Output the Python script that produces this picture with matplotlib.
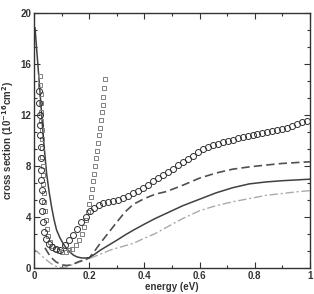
import matplotlib
matplotlib.use("Agg")
import matplotlib.pyplot as plt
from matplotlib.ticker import AutoMinorLocator

# ---- data ----
circ_x = [0.019, 0.020, 0.021, 0.022, 0.023, 0.024, 0.025, 0.026, 0.027, 0.028, 0.029, 0.031,
          0.033, 0.037, 0.045, 0.054, 0.066, 0.079, 0.094, 0.111, 0.127, 0.142, 0.157, 0.172,
          0.187, 0.203, 0.219, 0.235, 0.252, 0.270, 0.288, 0.306, 0.324, 0.342, 0.360, 0.378,
          0.396, 0.414, 0.432, 0.450, 0.468, 0.486, 0.504, 0.522, 0.540, 0.558, 0.576, 0.594,
          0.612, 0.630, 0.648, 0.666, 0.684, 0.702, 0.720, 0.738, 0.756, 0.774, 0.792, 0.810,
          0.828, 0.846, 0.864, 0.882, 0.900, 0.918, 0.936, 0.954, 0.972, 0.990]
circ_y = [13.9, 12.9, 12.0, 11.2, 10.4, 9.5, 8.6, 7.7, 6.9, 6.1, 5.3, 4.5,
          3.6, 2.85, 2.3, 1.93, 1.67, 1.48, 1.42, 1.8, 2.19, 2.6, 3.1, 3.6,
          4.05, 4.45, 4.75, 4.95, 5.08, 5.2, 5.28, 5.36, 5.48, 5.62, 5.85, 6.05,
          6.3, 6.55, 6.8, 7.05, 7.3, 7.55, 7.8, 8.05, 8.3, 8.55, 8.8, 9.1,
          9.35, 9.5, 9.62, 9.74, 9.86, 9.96, 10.05, 10.15, 10.25, 10.35, 10.44, 10.5,
          10.56, 10.63, 10.7, 10.8, 10.9, 11.0, 11.15, 11.3, 11.42, 11.55]

sq_x = [0.022, 0.023, 0.024, 0.025, 0.026, 0.027, 0.028, 0.029, 0.030, 0.031, 0.032, 0.033,
        0.034, 0.036, 0.038, 0.040, 0.043, 0.047, 0.051, 0.057, 0.066, 0.078, 0.090, 0.103,
        0.116, 0.128, 0.139, 0.152, 0.164, 0.175, 0.183, 0.190, 0.196, 0.201, 0.206, 0.210,
        0.214, 0.218, 0.222, 0.226, 0.230, 0.234, 0.237, 0.240, 0.243, 0.246, 0.249, 0.251,
        0.254, 0.257]
sq_y = [15.0, 14.3, 13.6, 12.9, 12.2, 11.5, 10.8, 10.1, 9.4, 8.7, 8.0, 7.3,
        6.6, 5.9, 5.2, 4.5, 3.8, 3.1, 2.5, 2.05, 1.75, 1.5, 1.38, 1.28,
        1.3, 1.4, 1.54, 1.8, 2.2, 2.65, 3.2, 3.8, 4.4, 5.0, 5.6, 6.2,
        6.8, 7.4, 8.0, 8.6, 9.2, 9.8, 10.4, 11.0, 11.6, 12.2, 12.8, 13.4,
        14.1, 14.8]

solid_x = [0.004, 0.022, 0.035, 0.046, 0.055, 0.064, 0.073, 0.082, 0.094, 0.106, 0.118, 0.130,
           0.142, 0.155, 0.170, 0.185, 0.200, 0.220, 0.240, 0.270, 0.300, 0.330, 0.360, 0.400,
           0.440, 0.480, 0.540, 0.600, 0.660, 0.720, 0.780, 0.840, 0.900, 0.960, 1.000]
solid_y = [18.8, 13.8, 10.0, 7.4, 6.0, 4.8, 3.8, 3.0, 2.4, 1.93, 1.55, 1.28,
           1.05, 0.9, 0.82, 0.8, 0.83, 1.1, 1.41, 1.8, 2.19, 2.6, 2.98, 3.45,
           3.9, 4.3, 4.9, 5.4, 5.9, 6.3, 6.6, 6.75, 6.85, 6.92, 6.97]

dash_x = [0.04, 0.06, 0.08, 0.10, 0.12, 0.14, 0.16, 0.18, 0.20, 0.22, 0.24, 0.26, 0.28,
          0.30, 0.33, 0.36, 0.40, 0.44, 0.48, 0.54, 0.60, 0.66, 0.72, 0.78, 0.84, 0.90,
          0.96, 1.00]
dash_y = [1.6, 0.9, 0.5, 0.28, 0.22, 0.3, 0.5, 0.65, 0.8, 1.35, 1.95, 2.5, 3.05,
          3.6, 4.4, 5.0, 5.45, 5.8, 6.0, 6.5, 7.05, 7.45, 7.75, 7.93, 8.07, 8.2,
          8.28, 8.33]

dd_x = [0.00, 0.02, 0.04, 0.06, 0.08, 0.10, 0.12, 0.14, 0.16, 0.18, 0.20, 0.24, 0.28,
        0.32, 0.36, 0.40, 0.44, 0.48, 0.54, 0.60, 0.66, 0.72, 0.78, 0.84, 0.90, 0.96, 1.00]
dd_y = [1.5, 1.15, 0.75, 0.4, 0.15, 0.05, 0.12, 0.28, 0.45, 0.6, 0.76, 1.1, 1.45,
        1.7, 1.95, 2.35, 2.72, 3.2, 3.9, 4.5, 4.9, 5.2, 5.45, 5.7, 5.85, 6.0, 6.07]

x_ticks = [0, 0.2, 0.4, 0.6, 0.8, 1]
x_ticklabels = ["0", "0.2", "0.4", "0.6", "0.8", "1"]
y_ticks = [0, 4, 8, 12, 16, 20]

plt.rcParams['font.family'] = ['Liberation Sans', 'DejaVu Sans']

fig = plt.figure(figsize=(3.14, 2.94), dpi=100)
ax = fig.add_axes([0.108, 0.0874, 0.879, 0.870])

ax.plot(dd_x, dd_y, color='#aaaaaa', lw=1.0, ls=(0, (6, 2, 1.5, 2)))
ax.plot(dash_x, dash_y, color='#505050', lw=1.2, ls=(0, (5, 2.5)))
ax.plot(solid_x, solid_y, color='#404040', lw=1.1)
ax.plot(sq_x, sq_y, ls='none', marker='s', ms=3.4, mfc='none', mec='#808080', mew=0.7)
ax.plot(circ_x, circ_y, ls='none', marker='o', ms=4.3, mfc='none', mec='#303030', mew=0.7)

ax.set_xlim(0, 1)
ax.set_ylim(0, 20)
ax.set_xticks(x_ticks)
ax.set_xticklabels(x_ticklabels)
ax.set_yticks(y_ticks)
ax.xaxis.set_minor_locator(AutoMinorLocator(2))
ax.yaxis.set_minor_locator(AutoMinorLocator(3))
ax.tick_params(which='both', direction='in', top=True, right=True, width=0.8, color='#333333')
ax.tick_params(which='major', length=4, labelsize=7, pad=2)
ax.tick_params(which='minor', length=2)
for lab in ax.get_xticklabels() + ax.get_yticklabels():
    lab.set_fontweight('bold')
    lab.set_color('#333333')
for s in ax.spines.values():
    s.set_linewidth(1.0)
    s.set_color('#333333')

ax.set_xlabel("energy (eV)", fontsize=7, fontweight='bold', color='#333333', labelpad=1)
ax.set_ylabel(r"cross section (10$^{\mathbf{-16}}$cm$^{\mathbf{2}}$)", fontsize=7,
              fontweight='bold', color='#333333', labelpad=3)

fig.savefig("out.png", dpi=100)
